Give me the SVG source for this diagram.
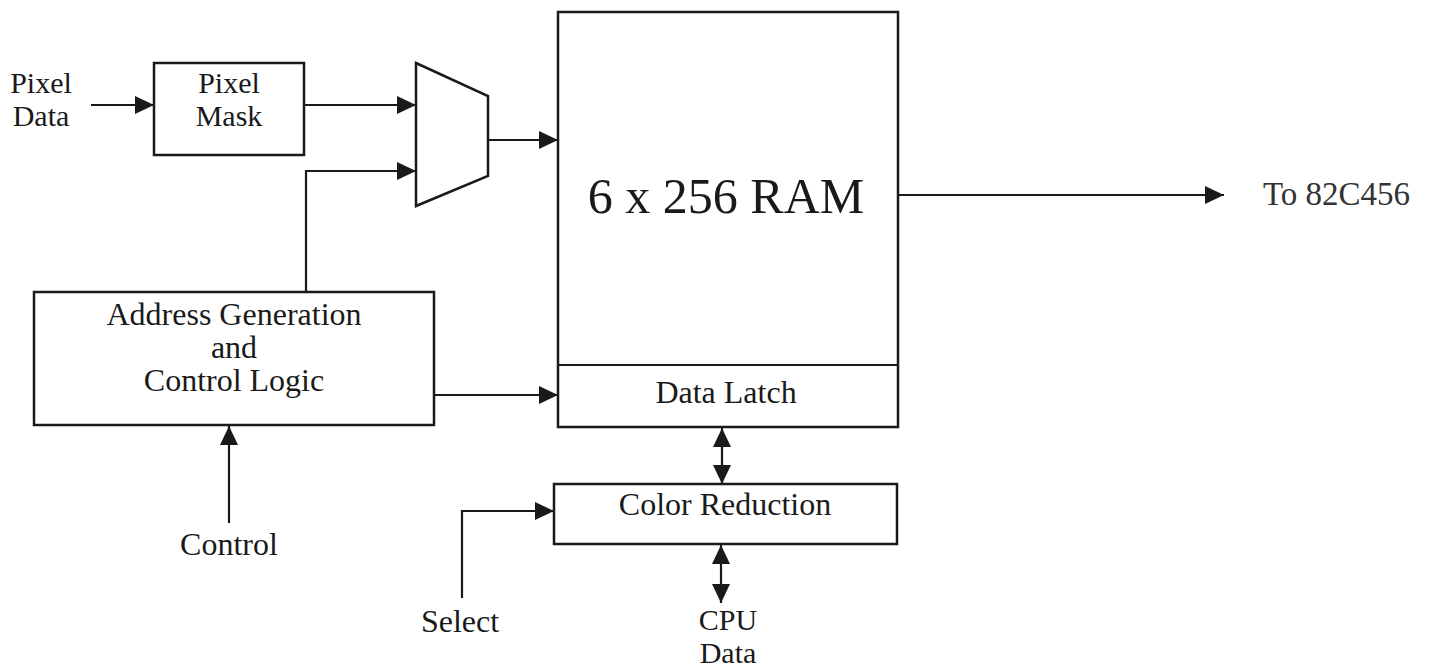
<svg xmlns="http://www.w3.org/2000/svg" width="1440" height="668" viewBox="0 0 1440 668">
  <style>
    .box { fill: #ffffff; stroke: #1a1a1a; stroke-width: 2.5; }
    .wire { fill: none; stroke: #1a1a1a; stroke-width: 2.2; }
    .lbl { font-family: "Liberation Serif", "Times New Roman", serif; font-size: 32px; fill: #1a1a1a; text-anchor: middle; }
    .sm { font-size: 30px; }
    .big { font-size: 50px; }
  </style>
  <defs>
    <marker id="arrow" viewBox="0 0 19 18" refX="19" refY="9" markerWidth="19" markerHeight="18" markerUnits="userSpaceOnUse" orient="auto">
      <path d="M0,0 L19,9 L0,18 Z" fill="#1a1a1a"/>
    </marker>
    <marker id="arrowStart" viewBox="0 0 19 18" refX="0" refY="9" markerWidth="19" markerHeight="18" markerUnits="userSpaceOnUse" orient="auto">
      <path d="M19,0 L0,9 L19,18 Z" fill="#1a1a1a"/>
    </marker>
  </defs>
  <rect width="1440" height="668" fill="#ffffff"/>

  <g id="connectors">
    <line class="wire" x1="91" y1="105" x2="154" y2="105" marker-end="url(#arrow)"/>
    <line class="wire" x1="304" y1="105" x2="416" y2="105" marker-end="url(#arrow)"/>
    <polyline class="wire" points="306,292 306,171 416,171" marker-end="url(#arrow)"/>
    <line class="wire" x1="488" y1="140" x2="558" y2="140" marker-end="url(#arrow)"/>
    <line class="wire" x1="898" y1="195" x2="1224" y2="195" marker-end="url(#arrow)"/>
    <line class="wire" x1="434" y1="395" x2="558" y2="395" marker-end="url(#arrow)"/>
    <line class="wire" x1="229" y1="523" x2="229" y2="426" marker-end="url(#arrow)"/>
    <line class="wire" x1="722" y1="428" x2="722" y2="484" marker-start="url(#arrowStart)" marker-end="url(#arrow)"/>
    <polyline class="wire" points="462,598 462,511 554,511" marker-end="url(#arrow)"/>
    <line class="wire" x1="721" y1="545" x2="721" y2="603" marker-start="url(#arrowStart)" marker-end="url(#arrow)"/>
  </g>

  <g id="pixel-data">
    <text class="lbl sm" x="41" y="93">Pixel</text>
    <text class="lbl sm" x="41" y="126">Data</text>
  </g>

  <g id="pixel-mask">
    <rect class="box" x="154" y="63" width="150" height="92"/>
    <text class="lbl sm" x="229" y="93">Pixel</text>
    <text class="lbl sm" x="229" y="126">Mask</text>
  </g>

  <g id="mux">
    <polygon class="box" points="416,63 488,96 488,176 416,206"/>
  </g>

  <g id="ram">
    <rect class="box" x="558" y="12" width="340" height="415"/>
    <line class="wire" x1="558" y1="365" x2="898" y2="365" stroke-width="2.5"/>
    <text class="lbl big" x="726" y="213">6 x 256 RAM</text>
  </g>

  <g id="data-latch">
    <text class="lbl" x="726" y="403">Data Latch</text>
  </g>

  <g id="address-generation">
    <rect class="box" x="34" y="292" width="400" height="133"/>
    <text class="lbl" x="234" y="325">Address Generation</text>
    <text class="lbl" x="234" y="358">and</text>
    <text class="lbl" x="234" y="391">Control Logic</text>
  </g>

  <g id="control">
    <text class="lbl" x="229" y="555">Control</text>
  </g>

  <g id="color-reduction">
    <rect class="box" x="554" y="484" width="343" height="60"/>
    <text class="lbl" x="725" y="515">Color Reduction</text>
  </g>

  <g id="select">
    <text class="lbl" x="460" y="632">Select</text>
  </g>

  <g id="cpu-data">
    <text class="lbl sm" x="728" y="630">CPU</text>
    <text class="lbl sm" x="728" y="663">Data</text>
  </g>

  <g id="to-82c456">
    <text class="lbl" x="1263" y="205" style="text-anchor: start; font-size: 33px; fill: #333333;">To 82C456</text>
  </g>
</svg>
